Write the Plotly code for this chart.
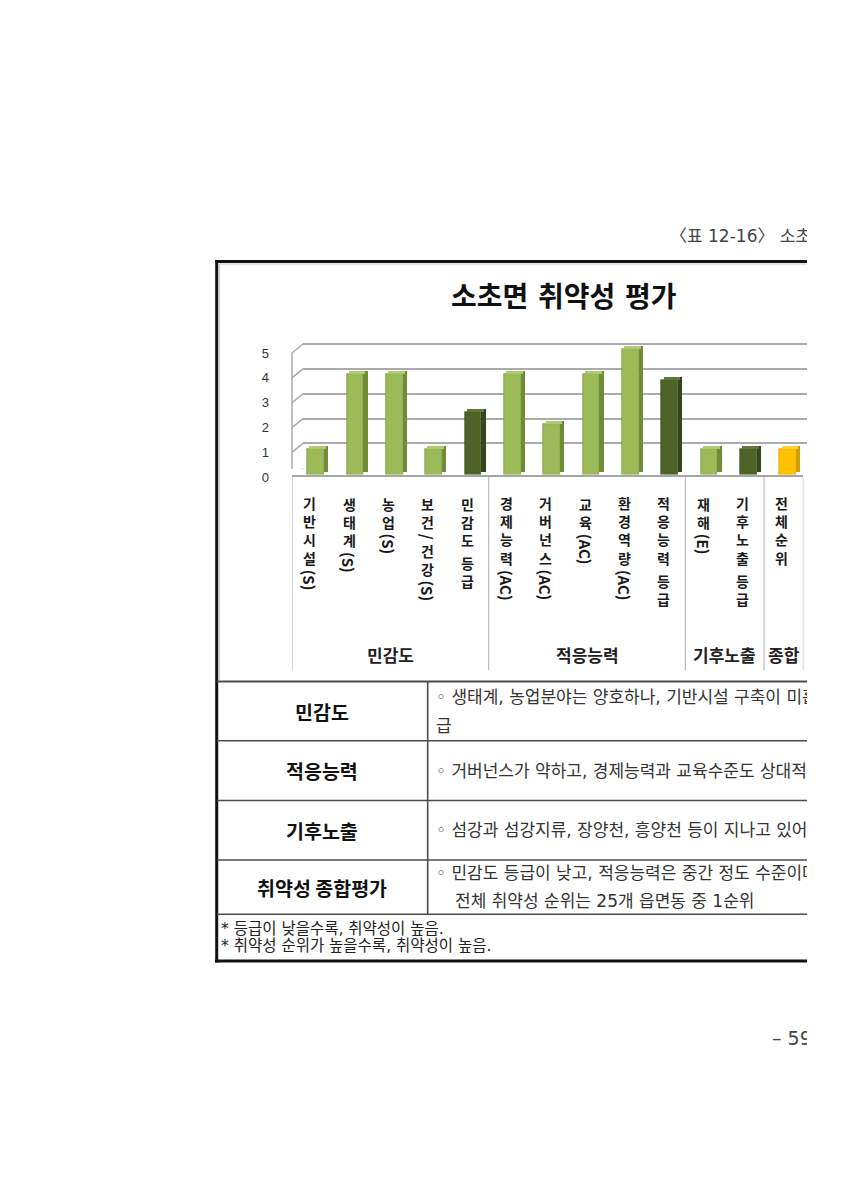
import plotly.graph_objects as go

# ---------------- data ----------------
categories = ["기반시설(S)", "생태계(S)", "농업(S)", "보건/건강(S)", "민감도 등급",
              "경제능력(AC)", "거버넌스(AC)", "교육(AC)", "환경역량(AC)", "적응능력 등급",
              "재해(E)", "기후노출 등급", "전체순위"]
values = [1, 4, 4, 1, 2.5, 4, 2, 4, 5, 3.75, 1, 1, 1]
kinds = ["sub", "sub", "sub", "sub", "grade",
         "sub", "sub", "sub", "sub", "grade",
         "sub", "grade", "total"]
groups = ["민감도", "적응능력", "기후노출", "종합"]
group_first = [0, 5, 10, 12]
group_last = [4, 9, 11, 12]
y_ticks = [0, 1, 2, 3, 4, 5]

chart_title = "소초면 취약성 평가"
header_text = "〈표 12-16〉 소초면 취약성 평가"
page_number = "– 59 –"
table_heads = ["민감도", "적응능력", "기후노출", "취약성 종합평가"]
table_lines = [
    ["◦ 생태계, 농업분야는 양호하나, 기반시설 구축이 미흡", "급"],
    ["◦ 거버넌스가 약하고, 경제능력과 교육수준도 상대적으로"],
    ["◦ 섬강과 섬강지류, 장양천, 흥양천 등이 지나고 있어"],
    ["◦ 민감도 등급이 낮고, 적응능력은 중간 정도 수준이며,", "전체 취약성 순위는 25개 읍면동 중 1순위"],
]
footnotes = ["* 등급이 낮을수록, 취약성이 높음.", "* 취약성 순위가 높을수록, 취약성이 높음."]

# ---------------- styles ----------------
W, H = 807, 1200
KR = "Noto Sans CJK KR"
MIX = "DejaVu Sans, Noto Sans CJK KR"
palette = {
    "sub":   {"front": "#9BBB59", "side": "#6F8D35", "top": "#AFCB72"},
    "grade": {"front": "#4F6228", "side": "#37461A", "top": "#62793A"},
    "total": {"front": "#FFC000", "side": "#D39C00", "top": "#FFD040"},
}


def px(x):
    return x / W


def py(y):
    return 1 - y / H


idx = list(range(len(categories)))
front_cols = [palette[k]["front"] for k in kinds]
side_cols = [palette[k]["side"] for k in kinds]
top_cols = [palette[k]["top"] for k in kinds]
lift = [0.12 for _ in values]

fig = go.Figure()

# 3D-looking bars: front face, side face, top face
fig.add_trace(go.Bar(x=idx, y=values, offset=-0.112, width=0.424,
                     marker=dict(color=front_cols, line=dict(width=0.6, color=side_cols)),
                     xaxis="x2", yaxis="y2", hoverinfo="skip"))
fig.add_trace(go.Bar(x=idx, y=values, base=lift, offset=0.312, width=0.114,
                     marker=dict(color=side_cols, line=dict(width=0)),
                     xaxis="x2", yaxis="y2", hoverinfo="skip"))
fig.add_trace(go.Bar(x=idx, y=lift, base=values, offset=-0.056, width=0.424,
                     marker=dict(color=top_cols, line=dict(width=0)),
                     xaxis="x2", yaxis="y2", hoverinfo="skip"))

# ---------------- axes ----------------
# back wall gridlines + tick labels (subplot xy)
grid_zero_px, grid_unit = 468.3, 24.86
g_lo, g_hi = -0.02, 5.1
fig.update_layout(
    xaxis=dict(domain=[px(303), 1], range=[0, 1], visible=False, fixedrange=True,
               automargin=False),
    yaxis=dict(domain=[py(grid_zero_px - g_lo * grid_unit), py(grid_zero_px - g_hi * grid_unit)],
               range=[g_lo, g_hi], tickvals=y_ticks, ticktext=[str(v) for v in y_ticks],
               showgrid=True, gridcolor="#ABABAB", gridwidth=1.5,
               zeroline=False, showline=False, ticks="",
               ticklabelstandoff=33, ticklabelshift=9, automargin=False,
               tickfont=dict(family="Liberation Sans", size=13, color="#333333"),
               anchor="x", fixedrange=True),
)
# bars subplot x2y2
bar_zero_px, bar_unit = 474.5, 25.1
b_hi = 5.6
fig.update_layout(
    xaxis2=dict(domain=[px(292), px(803.4)], range=[-0.5, 12.5], anchor="y2",
                showticklabels=False, showgrid=False, zeroline=False, automargin=False,
                showline=True, linecolor="#A6A6A6", linewidth=1.5, ticks="", fixedrange=True),
    yaxis2=dict(domain=[py(bar_zero_px), py(bar_zero_px - b_hi * bar_unit)], range=[0, b_hi],
                anchor="x2", showticklabels=False, showgrid=False, zeroline=False,
                automargin=False, showline=False, ticks="", fixedrange=True),
)

shapes = []
# left wall: front vertical and diagonals to the back gridlines
shapes.append(dict(type="line", xref="paper", yref="y", x0=px(292), x1=px(292),
                   y0=y_ticks[0] - 9 / grid_unit, y1=y_ticks[-1] - 9 / grid_unit,
                   line=dict(color="#ABABAB", width=1.5)))
for v in y_ticks:
    shapes.append(dict(type="line", xref="paper", yref="y", x0=px(292), x1=px(303),
                       y0=v - 9 / grid_unit, y1=v, line=dict(color="#ABABAB", width=1.5)))

# group dividers of the category axis
bounds = [group_first[0] - 0.5] + [g + 0.5 for g in group_last]
for b in bounds:
    shapes.append(dict(type="line", xref="x2", yref="paper", x0=b, x1=b,
                       y0=py(477), y1=py(670), line=dict(color="#BBBBBB", width=1.2)))

# outer frame (thick black) with faint inner shadow
shapes.append(dict(type="line", xref="paper", yref="paper", x0=px(215), x1=1.01,
                   y0=py(261.5), y1=py(261.5), line=dict(color="#111111", width=3)))
shapes.append(dict(type="line", xref="paper", yref="paper", x0=px(216.7), x1=px(216.7),
                   y0=py(260), y1=py(962.5), line=dict(color="#111111", width=3)))
shapes.append(dict(type="line", xref="paper", yref="paper", x0=px(215), x1=1.01,
                   y0=py(961), y1=py(961), line=dict(color="#111111", width=3)))
shapes.append(dict(type="line", xref="paper", yref="paper", x0=px(219.5), x1=px(219.5),
                   y0=py(264), y1=py(680), line=dict(color="#C8C8C8", width=1)))
shapes.append(dict(type="line", xref="paper", yref="paper", x0=px(219.5), x1=1.01,
                   y0=py(264), y1=py(264), line=dict(color="#C8C8C8", width=1)))

# table lines
row_lines = [681.5, 740.7, 800.5, 860, 914.3]
for i, yl in enumerate(row_lines):
    shapes.append(dict(type="line", xref="paper", yref="paper", x0=px(217), x1=1.01,
                       y0=py(yl), y1=py(yl),
                       line=dict(color="#4D4D4D", width=2 if i == 0 else 1.6)))
shapes.append(dict(type="line", xref="paper", yref="paper", x0=px(427.7), x1=px(427.7),
                   y0=py(row_lines[0]), y1=py(row_lines[-1]),
                   line=dict(color="#4D4D4D", width=1.6)))

# ---------------- texts ----------------
ann = []


def txt(text, x, y, size, color="#222222", bold=False, xanchor="center", yanchor="middle",
        xref="paper", xshift=0, angle=0, family=KR):
    ann.append(dict(text=text, x=x, y=y, xref=xref, yref="paper", xanchor=xanchor,
                    yanchor=yanchor, xshift=xshift, textangle=angle, showarrow=False,
                    borderpad=0, borderwidth=0,
                    font=dict(family=family, size=size, color=color,
                              weight="bold" if bold else "normal")))


txt(header_text, px(670), py(236), 17, color="#444444", xanchor="left", family=MIX)
txt(chart_title, px(564), py(298), 28, color="#111111", bold=True, family=MIX)
txt(page_number, px(772), py(1038), 19, color="#444444", xanchor="left", family=MIX)


def is_hangul(ch):
    return "\uac00" <= ch <= "\ud7a3"


# vertical (stacked) category labels: Hangul upright, Latin runs rotated
LBL_TOP, FS, GAP = 497.0, 14, 5.0
PITCH = 1.3 * FS
for k, lab in enumerate(categories):
    top = LBL_TOP
    runs = []
    i = 0
    while i < len(lab):
        ch = lab[i]
        if ch == " ":
            runs.append(("gap", ""))
            i += 1
            continue
        j = i
        hang = is_hangul(ch)
        while j < len(lab) and lab[j] != " " and is_hangul(lab[j]) == hang:
            j += 1
        runs.append(("hangul" if hang else "latin", lab[i:j]))
        i = j
    for kind, run in runs:
        if kind == "gap":
            top += GAP
        elif kind == "hangul":
            n = len(run)
            mid = top + 6.5 + (n - 1) * PITCH / 2
            txt("<br>".join(run), k, py(mid), FS, color="#1A1A1A", bold=True,
                xref="x2", xshift=-2)
            top += n * PITCH
        else:
            txt(run, k, py(top), FS + 1, color="#1A1A1A", bold=True, xref="x2", xshift=-2,
                yanchor="top", angle=90)
            top += 0.7 * FS * len(run) + 1

for g, a, b in zip(groups, group_first, group_last):
    txt(g, (a + b) / 2, py(654), 17, color="#222222", bold=True, xref="x2")

row_mid = [(row_lines[i] + row_lines[i + 1]) / 2 for i in range(4)]
for head, mid in zip(table_heads, row_mid):
    txt(head, px(322), py(mid), 19.5, color="#111111", bold=True)

line_y = [[696.7, 725.5], [770.5], [830.0], [873.3, 900.5]]
for r, (lines, ys) in enumerate(zip(table_lines, line_y)):
    for j, (t, yy) in enumerate(zip(lines, ys)):
        x0 = 455 if (r == 3 and j == 1) else 436
        txt(t, px(x0), py(yy), 17, color="#333333", xanchor="left", family=MIX)

for t, yy in zip(footnotes, [929.0, 946.5]):
    txt(t, px(221), py(yy), 15.5, color="#222222", xanchor="left", family=MIX)

fig.update_layout(
    width=W, height=H, autosize=False,
    margin=dict(l=0, r=0, t=0, b=0, pad=0, autoexpand=False),
    paper_bgcolor="white", plot_bgcolor="rgba(0,0,0,0)",
    barmode="overlay", bargap=0, showlegend=False,
    shapes=shapes, annotations=ann,
    font=dict(family=KR),
)

fig.write_html("out.html")
